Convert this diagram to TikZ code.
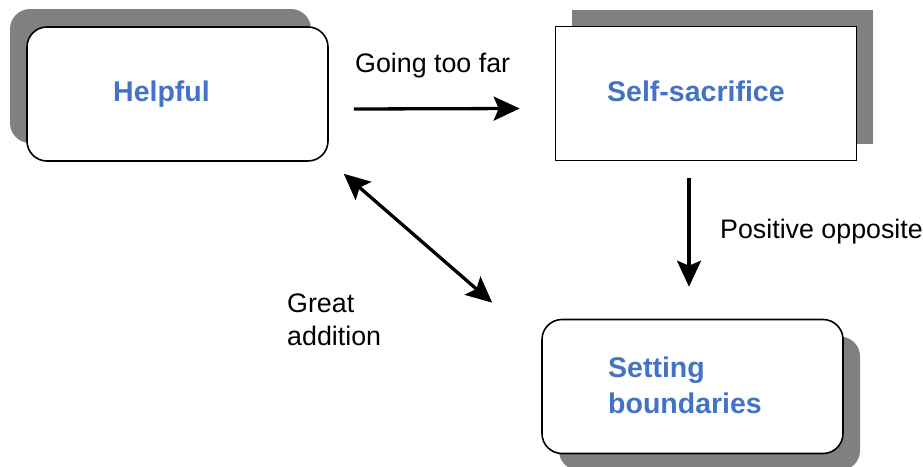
\documentclass[tikz,border=0pt]{standalone}
\usepackage{fontspec}
\setmainfont{Liberation Sans}
\usepackage{xcolor}
\usepackage{tikz}
\usetikzlibrary{arrows.meta,shadows}
\definecolor{boxblue}{RGB}{68,114,196}
\definecolor{shadowgray}{RGB}{128,128,128}

\begin{document}
\begin{tikzpicture}[x=1pt, y=-1pt,
          stepbox/.style={draw, line width=1.6pt, fill=white,
                          minimum width=301pt, minimum height=134pt,
                          inner sep=0pt},
          roundbox/.style={stepbox, rounded corners=20pt},
          boxtext/.style={font=\fontsize{28.5}{36}\selectfont\bfseries,
                          text=boxblue, inner sep=0pt, align=left},
          lbl/.style={font=\fontsize{26.8}{33}\selectfont, inner sep=0pt,
                      align=left},
          arr/.style={-{Stealth[length=26pt, width=24pt, inset=5pt]},
                      line width=3.3pt},
          dblarr/.style={{Stealth[length=26pt, width=24pt, inset=5pt]}-{Stealth[length=26pt, width=24pt, inset=5pt]},
                         line width=3.3pt}]
          \useasboundingbox (0,0) rectangle (923,466);
          % boxes
          \node[roundbox, general shadow={fill=shadowgray,
                shadow xshift=-17pt, shadow yshift=18pt}] (helpful) at (177.5,94) {};
          \node[stepbox, general shadow={fill=shadowgray,
                shadow xshift=16pt, shadow yshift=17pt}] (selfsac) at (706,93.5) {};
          \node[roundbox, general shadow={fill=shadowgray,
                shadow xshift=17pt, shadow yshift=-17pt}] (bounds) at (692.5,386.5) {};
          \node[boxtext, anchor=base west] (helpfultxt) at (113,101) {Helpful};
          \node[boxtext, anchor=base west] (selfsactxt) at (607,101) {Self-sacrifice};
          \node[boxtext, anchor=base west] (boundstxt) at (608,413) {Setting\\boundaries};
          % connectors
          \draw[arr] ([xshift=25pt, yshift=-15pt]helpful.east)
                     -- ([xshift=-35pt, yshift=-15pt]selfsac.west);
          \draw[arr] ([xshift=-17pt, yshift=-17pt]selfsac.south)
                     -- ([xshift=-3.5pt, yshift=32pt]bounds.north);
          \draw[dblarr] ([xshift=15pt, yshift=-12pt]helpful.south east)
                        -- ([xshift=-49pt, yshift=16pt]bounds.north west);
          \node[lbl, anchor=base west] (goingfar) at (355,72) {Going too far};
          \node[lbl, anchor=base west] (posopp) at (720,238) {Positive opposite};
          \node[lbl, anchor=base west] (greatadd) at (287,345) {Great\\addition};
\end{tikzpicture}
\end{document}
